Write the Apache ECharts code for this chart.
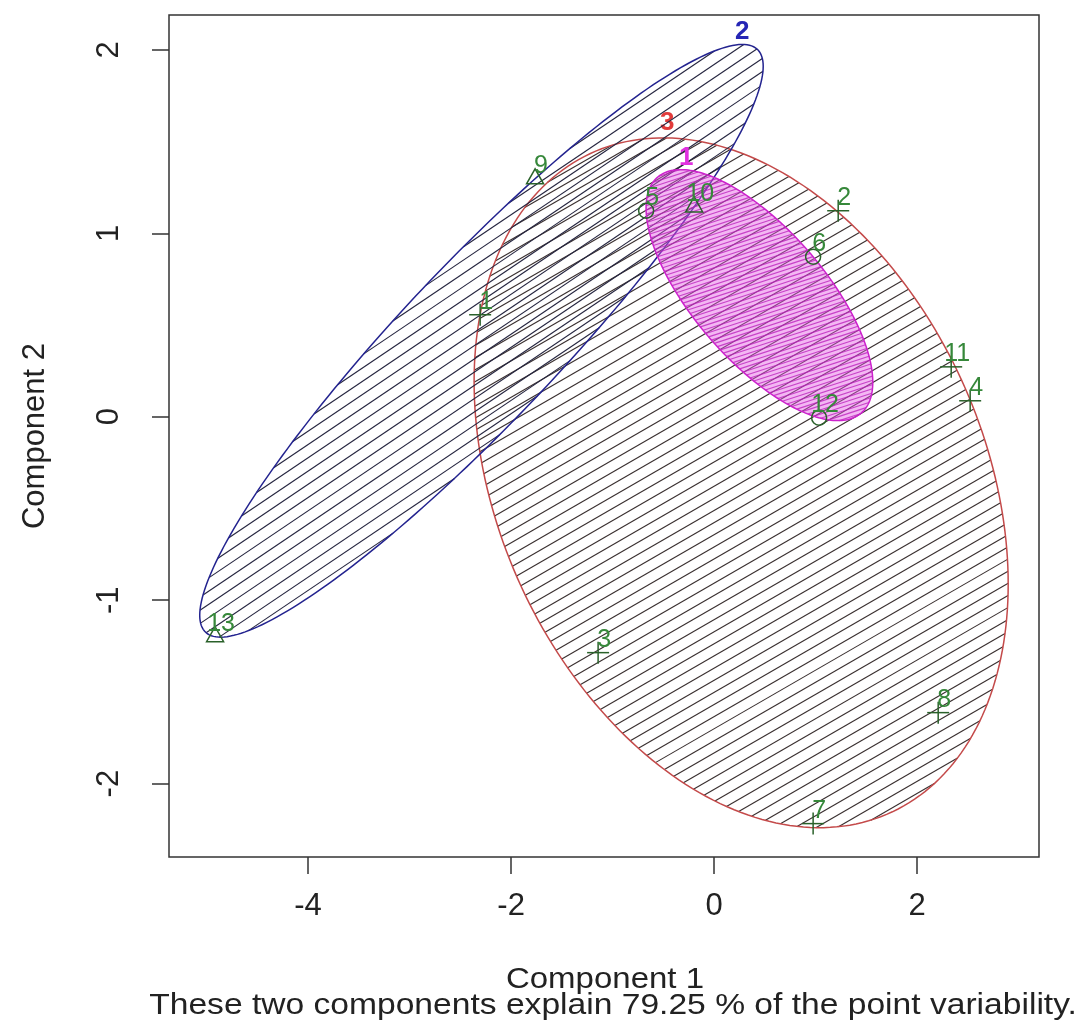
<!DOCTYPE html>
<html>
<head>
<meta charset="utf-8">
<script src="https://cdn.jsdelivr.net/npm/echarts@6.0.0/dist/echarts.min.js"></script>
<style>
  html, body { margin: 0; padding: 0; background: #fff; }
  #chart { width: 1084px; height: 1021px; }
</style>
</head>
<body>
<div id="chart"></div>
<script>
var pointNames = ['1', '2', '3', '4', '5', '6', '7', '8', '9', '10', '11', '12', '13'];
var comp1 = [-2.305, 1.222, -1.143, 2.522, -0.670, 0.975, 0.975, 2.207, -1.764, -0.197, 2.335, 1.034, -4.916];
var comp2 = [0.556, 1.123, -1.286, 0.087, 1.123, 0.872, -2.218, -1.613, 1.297, 1.144, 0.272, -0.005, -1.199];
var pointCluster = [3, 3, 3, 3, 1, 1, 3, 3, 2, 2, 3, 1, 2];

// cluster ellipses: centre and shape matrix (sxx, syy, sxy)
var clusterIds = ['3', '2', '1'];
var ellCx = [0.266, -2.292, 0.446];
var ellCy = [-0.360, 0.414, 0.663];
var ellSxx = [6.920, 7.702, 1.247];
var ellSyy = [3.535, 2.610, 0.468];
var ellSxy = [-1.450, 4.152, -0.530];
var clusterLabelX = [-0.463, 0.276, -0.276];
var clusterLabelY = [1.602, 2.098, 1.411];

var xTicks = [-4, -2, 0, 2];
var yTicks = [-2, -1, 0, 1, 2];

var FONT = '"Liberation Sans", Arial, Helvetica, sans-serif';

// per ellipse look: outline, hatch angle (deg), hatch spacing (px)
var ellBorder = ['#c44a4a', '#23238f', '#cc22cc'];
var ellHatch = ['#3a3030', '#262640', 'rgba(185,25,185,0.75)'];
var ellAngle = [30, 34, 18];
var ellGap = [10.5, 11, 4];
var ellFill = [null, null, 'rgba(228,95,228,0.45)'];
var clusterLabelColor = ['#e23b3b', '#2626b5', '#e030e0'];

var chart = echarts.init(document.getElementById('chart'));

function renderEllipse(params, api) {
  var i = params.dataIndex;
  var c = api.coord([ellCx[i], ellCy[i]]);
  var px = api.coord([ellCx[i] + 1, ellCy[i]]);
  var py = api.coord([ellCx[i], ellCy[i] + 1]);
  var sx = px[0] - c[0], sy = py[1] - c[1];
  var a = ellSxx[i] * sx * sx, d = ellSyy[i] * sy * sy, b = ellSxy[i] * sx * sy;

  // outline
  var l11 = Math.sqrt(a), l21 = b / l11, l22 = Math.sqrt(d - l21 * l21);
  var pts = [];
  for (var k = 0; k <= 240; k++) {
    var t = k / 240 * Math.PI * 2;
    pts.push([c[0] + l11 * Math.cos(t), c[1] + l21 * Math.cos(t) + l22 * Math.sin(t)]);
  }

  // hatching
  var det = a * d - b * b;
  var qxx = d / det, qyy = a / det, qxy = -b / det;
  var ang = ellAngle[i] * Math.PI / 180;
  var u = [Math.cos(ang), -Math.sin(ang)];
  var n = [Math.sin(ang), Math.cos(ang)];
  function quad(v, w) {
    return v[0] * w[0] * qxx + (v[0] * w[1] + v[1] * w[0]) * qxy + v[1] * w[1] * qyy;
  }
  var A = quad(u, u), B = quad(n, u), C = quad(n, n);
  var tmax = Math.sqrt(A / (A * C - B * B));
  var gap = ellGap[i];
  var children = [];
  if (ellFill[i]) {
    children.push({ type: 'polygon', shape: { points: pts }, style: { fill: ellFill[i], stroke: null } });
  }
  for (var tt = Math.ceil(-tmax / gap) * gap; tt <= tmax; tt += gap) {
    var disc = tt * tt * B * B - A * (tt * tt * C - 1);
    if (disc <= 0) continue;
    var s1 = (-tt * B - Math.sqrt(disc)) / A, s2 = (-tt * B + Math.sqrt(disc)) / A;
    children.push({
      type: 'line',
      shape: {
        x1: c[0] + tt * n[0] + s1 * u[0], y1: c[1] + tt * n[1] + s1 * u[1],
        x2: c[0] + tt * n[0] + s2 * u[0], y2: c[1] + tt * n[1] + s2 * u[1]
      },
      style: { stroke: ellHatch[i], lineWidth: 1.15 }
    });
  }
  children.push({ type: 'polyline', shape: { points: pts }, style: { stroke: ellBorder[i], lineWidth: 1.5, fill: null } });

  var lp = api.coord([clusterLabelX[i], clusterLabelY[i]]);
  children.push({
    type: 'text', x: lp[0], y: lp[1],
    style: { text: clusterIds[i], fill: clusterLabelColor[i], font: 'bold 26px ' + FONT, textAlign: 'center', textVerticalAlign: 'middle' }
  });
  return { type: 'group', children: children };
}

function renderPoint(params, api) {
  var i = params.dataIndex;
  var p = api.coord([comp1[i], comp2[i]]);
  var k = pointCluster[i];
  var mark = '#2a612a';
  var shape;
  if (k === 1) {
    shape = { type: 'circle', shape: { cx: p[0], cy: p[1], r: 7.5 }, style: { fill: null, stroke: mark, lineWidth: 1.5 } };
  } else if (k === 2) {
    shape = { type: 'polygon', shape: { points: [[p[0], p[1] - 10], [p[0] - 8.5, p[1] + 5], [p[0] + 8.5, p[1] + 5]] }, style: { fill: null, stroke: mark, lineWidth: 1.5 } };
  } else {
    shape = { type: 'group', children: [
      { type: 'line', shape: { x1: p[0] - 11, y1: p[1], x2: p[0] + 11, y2: p[1] }, style: { stroke: mark, lineWidth: 1.5 } },
      { type: 'line', shape: { x1: p[0], y1: p[1] - 11, x2: p[0], y2: p[1] + 11 }, style: { stroke: mark, lineWidth: 1.5 } }
    ] };
  }
  return { type: 'group', children: [
    shape,
    { type: 'text', x: p[0] + 6, y: p[1] - 13,
      style: { text: pointNames[i], fill: '#36883a', font: '25px ' + FONT, textAlign: 'center', textVerticalAlign: 'middle' } }
  ] };
}

var option = {
  backgroundColor: '#fff',
  animation: false,
  grid: {
    left: 169, top: 15, width: 870, height: 842,
    show: true, borderColor: '#333', borderWidth: 1.5,
    containLabel: false, outerBoundsMode: 'none'
  },
  xAxis: {
    type: 'value', min: -5.37, max: 3.20,
    splitLine: { show: false },
    axisLine: { show: false, onZero: false },
    axisTick: { show: true, inside: false, length: 17, customValues: xTicks, lineStyle: { color: '#333', width: 1.5 } },
    axisLabel: { customValues: xTicks, fontSize: 31, fontFamily: FONT, color: '#222', margin: 34 }
  },
  yAxis: {
    type: 'value', min: -2.40, max: 2.19,
    splitLine: { show: false },
    axisLine: { show: false, onZero: false },
    axisTick: { show: true, inside: false, length: 17, customValues: yTicks, lineStyle: { color: '#333', width: 1.5 } },
    axisLabel: { customValues: yTicks, fontSize: 31, fontFamily: FONT, color: '#222', margin: 44, rotate: 90 }
  },
  graphic: [
    { type: 'text', x: 605, y: 980, scaleX: 1.1, style: { text: 'Component 1', font: '30px ' + FONT, fill: '#222', textAlign: 'center', textVerticalAlign: 'middle' } },
    { type: 'text', x: 613, y: 1006, scaleX: 1.12, style: { text: 'These two components explain 79.25 % of the point variability.', font: '30px ' + FONT, fill: '#222', textAlign: 'center', textVerticalAlign: 'middle' } },
    { type: 'text', x: 35, y: 436, rotation: Math.PI / 2, style: { text: 'Component 2', font: '31px ' + FONT, fill: '#222', textAlign: 'center', textVerticalAlign: 'middle' } }
  ],
  series: [
    {
      type: 'custom',
      renderItem: renderEllipse,
      data: ellCx.map(function (x, i) { return [x, ellCy[i]]; }),
      encode: { x: 0, y: 1 },
      clip: false,
      silent: true
    },
    {
      type: 'custom',
      renderItem: renderPoint,
      data: comp1.map(function (x, i) { return [x, comp2[i]]; }),
      encode: { x: 0, y: 1 },
      clip: false,
      silent: true
    }
  ]
};

chart.setOption(option);
</script>
</body>
</html>
